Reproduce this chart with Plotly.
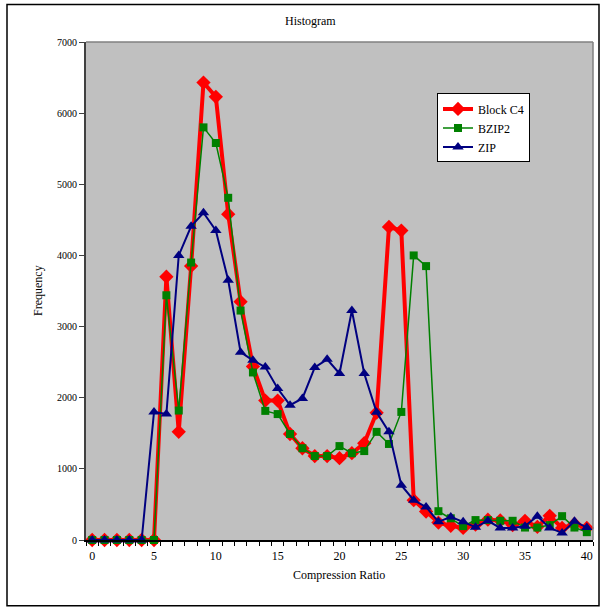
import plotly.graph_objects as go

ratios = list(range(0, 41))
block_c4 = [0, 0, 0, 0, 0, 0, 3700, 1520, 3850, 6430, 6230, 4580, 3350, 2440, 1960, 1960,
            1490, 1290, 1180, 1180, 1150, 1220, 1360, 1790, 4400, 4350, 560, 400, 245, 200,
            170, 215, 285, 275, 210, 270, 185, 340, 170, 225, 170]
bzip2 = [0, 0, 0, 0, 0, 0, 3440, 1820, 3900, 5800, 5580, 4810, 3225, 2355, 1815, 1770,
         1490, 1290, 1180, 1180, 1320, 1220, 1250, 1520, 1350, 1800, 4000, 3850, 405, 305,
         195, 280, 280, 270, 270, 175, 175, 210, 335, 175, 110]
zip_ = [0, 0, 0, 0, 0, 1800, 1770, 4000, 4410, 4600, 4350, 3650, 2640, 2525, 2430, 2130,
        1895, 1990, 2425, 2540, 2340, 3225, 2340, 1795, 1520, 770, 560, 465, 255, 325,
        255, 180, 270, 170, 170, 195, 335, 170, 100, 265, 175]
y_ticks = [0, 1000, 2000, 3000, 4000, 5000, 6000, 7000]
x_ticks = [0, 5, 10, 15, 20, 25, 30, 35, 40]

FONT = "Liberation Serif"

fig = go.Figure()
fig.add_trace(go.Scatter(x=ratios, y=block_c4, name="Block C4", mode="lines+markers",
                         line=dict(color="#FF0000", width=4),
                         marker=dict(symbol="diamond", size=11, color="#FF0000"),
                         cliponaxis=False))
fig.add_trace(go.Scatter(x=ratios, y=bzip2, name="BZIP2", mode="lines+markers",
                         line=dict(color="#008000", width=1.5),
                         marker=dict(symbol="square", size=8, color="#008000"),
                         cliponaxis=False))
fig.add_trace(go.Scatter(x=ratios, y=zip_, name="ZIP", mode="lines+markers",
                         line=dict(color="#000080", width=2),
                         marker=dict(symbol="triangle-up", size=10, color="#000080"),
                         cliponaxis=False))

L, R, T, B = 86, 593, 41.5, 540.5
W, H = 600, 609


def px(x):
    return (x - L) / (R - L)


def py(y):
    return (B - y) / (B - T)


def label(text, x, y, angle=0):
    return dict(text=text, x=px(x), y=py(y), xref="paper", yref="paper",
                xanchor="center", yanchor="middle", showarrow=False,
                textangle=angle, font=dict(family=FONT, size=12, color="black"))


fig.update_layout(
    width=W, height=H,
    margin=dict(l=L, r=W - R, t=T, b=H - B),
    paper_bgcolor="white",
    plot_bgcolor="#C0C0C0",
    font=dict(family=FONT, size=12, color="black"),
    showlegend=True,
    legend=dict(x=px(437), y=py(93), xanchor="left", yanchor="top",
                bgcolor="white", bordercolor="black", borderwidth=1,
                font=dict(family=FONT, size=12), tracegroupgap=0, itemwidth=30),
    xaxis=dict(range=[-0.5, 40.5], tickmode="array", tickvals=x_ticks,
               ticks="", showgrid=False, zeroline=False,
               showline=True, linecolor="black", linewidth=1.5,
               tickfont=dict(family=FONT, size=12), ticklabelstandoff=4,
               minor=dict(tickvals=[i - 0.5 for i in range(42)], ticks="outside",
                          ticklen=4, tickcolor="black", tickwidth=1, showgrid=False)),
    yaxis=dict(range=[0, 7000], tickmode="array", tickvals=y_ticks,
               ticks="outside", ticklen=5, tickcolor="#404040", tickwidth=1,
               showgrid=False, zeroline=False,
               showline=True, linecolor="#404040", linewidth=2,
               tickfont=dict(family=FONT, size=10)),
    annotations=[
        label("Histogram", 310, 20),
        label("Compression Ratio", 339, 576),
        label("Frequency", 38, 291, -90),
    ],
    shapes=[
        dict(type="line", xref="paper", yref="paper", x0=0, x1=1, y0=1, y1=1,
             line=dict(color="#808080", width=1.5)),
        dict(type="line", xref="paper", yref="paper", x0=1, x1=1, y0=0, y1=1,
             line=dict(color="#808080", width=1.5)),
        dict(type="rect", xref="paper", yref="paper", x0=px(7), x1=px(599),
             y0=py(606.5), y1=py(4), line=dict(color="black", width=1.5),
             layer="below"),
    ],
)

fig.write_html("out.html")
